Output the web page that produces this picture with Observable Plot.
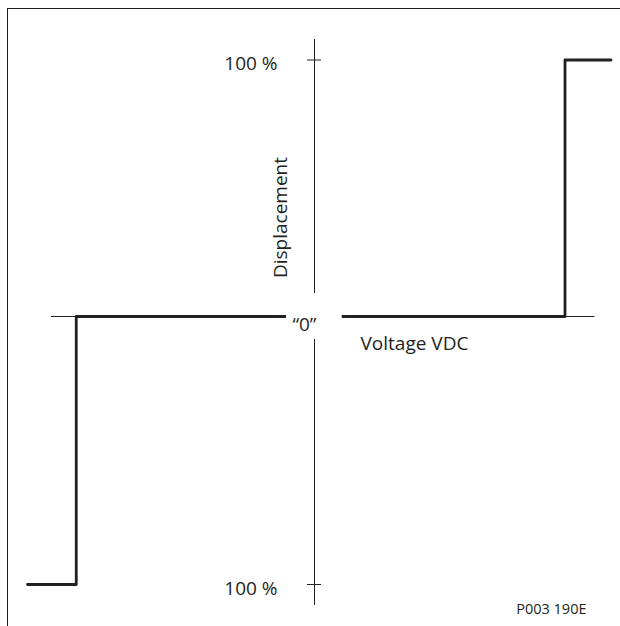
<!DOCTYPE html>
<html>
<head>
<meta charset="utf-8">
<script src="https://cdn.jsdelivr.net/npm/d3@7"></script>
<script src="https://cdn.jsdelivr.net/npm/@observablehq/plot@0.6"></script>
<style>
  html, body { margin: 0; padding: 0; background: #fff; }
  #wrap { position: relative; width: 620px; height: 626px; overflow: hidden; }
  #wrap svg { position: absolute; left: 0; top: 0; }
  #border { position: absolute; left: 7px; top: 8px; right: -2px; bottom: -2px;
            border-top: 1px solid #231f20; border-left: 1px solid #231f20; pointer-events: none; }
</style>
</head>
<body>
<div id="wrap"><div id="border"></div></div>
<script>
// Step response: voltage (arbitrary units, 0 = origin) vs displacement (%)
const voltage      = [-11.48, -9.53, 10.02, 11.86];
const displacement = [-100, 0, 100, 100];

// Axis extents (data units)
const xAxisSpan = [-10.52, 11.22];
const yAxisSpan = [-107.8, 108];
const yTicks = [100, -100];
const yTickLabels = ["100 %", "100 %"];
const tickHalf = 0.28;
// clearance around the origin label
const originGap = {x1: -1.12, x2: 1.11, y1: -8.58, y2: 8.97};
const originLabel = "\u201C0\u201D";
const xLabel = "Voltage VDC";
const yLabel = "Displacement";
const caption = "P003 190E";

// the drawing's negative half is slightly taller than its positive half
const lowerStretch = 1.0448;

const ink = "#231f20";
const font = "'Open Sans', 'Noto Sans', sans-serif";

const stepData = voltage.map((v, i) => ({v, d: displacement[i]}));
const tickData = yTicks.map((t, i) => ({t, label: yTickLabels[i]}));

const chart = Plot.plot({
  width: 620,
  height: 626,
  margin: 0,
  style: {fontFamily: font, color: ink, background: "transparent", overflow: "visible"},
  x: {domain: [-12, 12], range: [14, 614], axis: null},
  y: {transform: d => (d < 0 ? d * lowerStretch : d), domain: [-100, 100], range: [572.5, 59.5], axis: null},
  marks: [
    // horizontal axis
    Plot.ruleY([0], {x1: xAxisSpan[0], x2: xAxisSpan[1], stroke: ink, strokeWidth: 1}),
    // vertical axis
    Plot.ruleX([0], {y1: yAxisSpan[0], y2: yAxisSpan[1], stroke: ink, strokeWidth: 1}),
    // ticks
    Plot.ruleY(tickData, {y: "t", x1: -tickHalf, x2: tickHalf, stroke: ink, strokeWidth: 1}),
    // step curve
    Plot.line(stepData, {x: "v", y: "d", curve: "step-after", stroke: ink, strokeWidth: 2.8}),
    // clearance at origin
    Plot.rect([originGap], {x1: "x1", x2: "x2", y1: "y1", y2: "y2", fill: "white"}),
    // tick labels
    Plot.text(tickData, {x: 0, y: "t", text: "label", textAnchor: "end", dx: -37, dy: 4,
      fontSize: 19, fill: ink}),
    // origin label
    Plot.text([originLabel], {x: 0, y: 0, text: d => d, textAnchor: "end", dx: 2, dy: 8,
      fontSize: 19, fill: ink}),
    // x label
    Plot.text([xLabel], {x: 0, y: 0, text: d => d, textAnchor: "start", dx: 46, dy: 27,
      fontSize: 19, fill: ink}),
    // y label
    Plot.text([yLabel], {x: 0, y: 0, text: d => d, textAnchor: "middle", rotate: -90,
      dx: -34, dy: -99, fontSize: 19, fill: ink}),
    // caption
    Plot.text([caption], {frameAnchor: "bottom-right", text: d => d, textAnchor: "end",
      dx: -34, dy: -13, fontSize: 14.5, fill: ink})
  ]
});
document.getElementById("wrap").insertBefore(chart, document.getElementById("border"));
</script>
</body>
</html>
